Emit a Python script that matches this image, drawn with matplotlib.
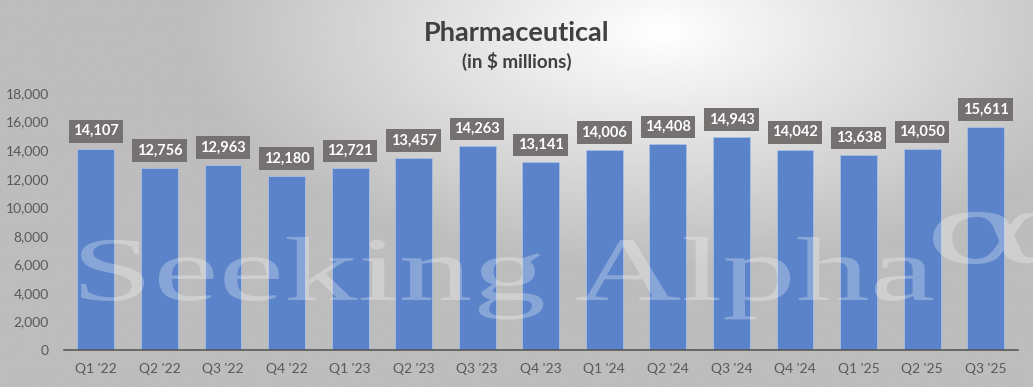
import numpy as np
import matplotlib.pyplot as plt
from matplotlib.textpath import TextPath
from matplotlib.patches import PathPatch
from matplotlib.font_manager import FontProperties
from matplotlib.transforms import Affine2D, IdentityTransform

quarters = ["Q1 '22", "Q2 '22", "Q3 '22", "Q4 '22", "Q1 '23", "Q2 '23", "Q3 '23", "Q4 '23",
            "Q1 '24", "Q2 '24", "Q3 '24", "Q4 '24", "Q1 '25", "Q2 '25", "Q3 '25"]
revenue = [14107, 12756, 12963, 12180, 12721, 13457, 14263, 13141,
           14006, 14408, 14943, 14042, 13638, 14050, 15611]
yticks = [0, 2000, 4000, 6000, 8000, 10000, 12000, 14000, 16000, 18000]

plt.rcParams['font.family'] = ['Lato', 'DejaVu Sans']

fig = plt.figure(figsize=(10.33, 3.87), dpi=100)
W, H = 1033, 387

# background gradient (light centre-top, grey edges)
bg = fig.add_axes([0, 0, 1, 1], zorder=0)
yy, xx = np.mgrid[0:1:200j, 0:1:400j]
d = np.sqrt(((xx - 0.64) * 1.35) ** 2 + ((yy - 0.08) * 1.0) ** 2)
shade = np.clip(1.0 - 0.42 * d, 0.74, 1.0)
bg.imshow(shade, cmap='gray', vmin=0, vmax=1, extent=[0, 1, 0, 1], aspect='auto', origin='upper')
bg.axis('off')

ax = fig.add_axes([0.062, 0.0956, 0.923, 0.664], zorder=1)
ax.patch.set_alpha(0)
x = np.arange(len(quarters))
ax.bar(x, revenue, width=0.58, color='#5b83c9', edgecolor='#a9bfe6', linewidth=0.6, zorder=2)

for xi, v in zip(x, revenue):
    ax.annotate(f"{v:,}", (xi, v), xytext=(0, 12.5), textcoords='offset points',
                ha='center', va='center', fontsize=10.5, fontweight='bold', color='white',
                bbox=dict(boxstyle='square,pad=0.3', fc='#767171', ec='none'), zorder=4)

ax.set_xlim(-0.5, len(quarters) - 0.5)
ax.set_ylim(0, 18000)
ax.set_yticks(yticks)
ax.set_yticklabels([f"{t:,}" for t in yticks])
ax.set_xticks(x)
ax.set_xticklabels(quarters)
ax.tick_params(axis='both', length=0, labelsize=10, labelcolor='#595959')
ax.tick_params(axis='x', pad=9)
ax.tick_params(axis='y', pad=11)
for s in ['top', 'right', 'left']:
    ax.spines[s].set_visible(False)
ax.spines['bottom'].set_color('#595959')
ax.spines['bottom'].set_linewidth(1.2)

# watermark, drawn as stretched outline text in pixel coordinates
wm_font = FontProperties(family='Liberation Serif', weight='normal')
wm = TextPath((0, 0), "Seeking Alpha", size=1, prop=wm_font)
ext = wm.get_extents()
sx = (933 - 81) / ext.width
sy = 60 / 0.66
wm = wm.transformed(Affine2D().translate(-ext.x0, 0).scale(sx, sy).translate(81, H - 300))
fig.patches.append(PathPatch(wm, transform=IdentityTransform(), fc='white', ec='none',
                             alpha=0.28, zorder=3))
al = TextPath((0, 0), "\u03b1", size=1, prop=FontProperties(family='DejaVu Serif'))
ae = al.get_extents()
al = al.transformed(Affine2D().translate(-ae.x0, -ae.y0)
                    .scale(110 / ae.width, 52 / ae.height).translate(933, H - 264))
fig.patches.append(PathPatch(al, transform=IdentityTransform(), fc='white', ec='none',
                             alpha=0.28, zorder=3))

fig.text(0.5, 0.915, "Pharmaceutical", fontsize=19.5, fontweight='bold', color='#404040', ha='center', va='center')
fig.text(0.5, 0.84, "(in $ millions)", fontsize=13.5, fontweight='bold', color='#404040', ha='center', va='center')

fig.savefig('out.png', dpi=100)
